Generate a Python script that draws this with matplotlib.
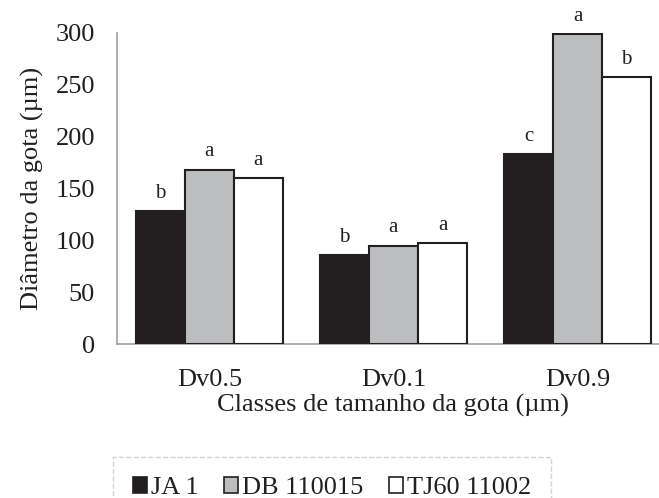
import matplotlib.pyplot as plt
import numpy as np

categories = ["Dv0.5", "Dv0.1", "Dv0.9"]
series_names = ["JA 1", "DB 110015", "TJ60 11002"]
ja1 = [128, 86, 183]
db110015 = [168, 95, 299]
tj60 = [160, 97, 257]
letters_ja1 = ["b", "b", "c"]
letters_db = ["a", "a", "a"]
letters_tj = ["a", "a", "b"]

plt.rcParams["font.family"] = ["Liberation Serif", "DejaVu Serif"]

fig = plt.figure(figsize=(6.59, 4.98), dpi=100)
ax = fig.add_axes([0.178, 0.309, 0.838, 0.625])

x = np.arange(len(categories))
w = 0.8 / 3
colors = ["#231f20", "#bcbdbf", "#ffffff"]
all_vals = [ja1, db110015, tj60]
all_letters = [letters_ja1, letters_db, letters_tj]
for i, (vals, lets) in enumerate(zip(all_vals, all_letters)):
    pos = x + (i - 1) * w
    ax.bar(pos, vals, w, color=colors[i], edgecolor="#231f20", linewidth=1.5,
           label=series_names[i], zorder=3)
    for p, v, t in zip(pos, vals, lets):
        ax.annotate(t, (p, v), xytext=(0, 6), textcoords="offset points",
                    ha="center", va="bottom", fontsize=15, color="#231f20")

ax.set_xlim(-0.5, 2.5)
ax.set_ylim(0, 300)
ax.set_yticks(np.arange(0, 301, 50))
ax.set_xticks(x)
ax.set_xticklabels(categories)
ax.tick_params(axis="both", length=0, labelsize=19, colors="#231f20")
ax.tick_params(axis="y", pad=16)
ax.tick_params(axis="x", pad=18)
for s in ["top", "right"]:
    ax.spines[s].set_visible(False)
for s in ["left", "bottom"]:
    ax.spines[s].set_color("#a0a0a0")
    ax.spines[s].set_linewidth(1.2)

ax.set_ylabel("Diâmetro da gota (µm)", fontsize=19, color="#231f20", labelpad=8)
ax.set_xlabel("Classes de tamanho da gota (µm)", fontsize=19, color="#231f20", labelpad=2)

leg = fig.legend(loc="upper left", bbox_to_anchor=(113 / 659, 1 - 457 / 498),
                 borderaxespad=0, ncol=3, fontsize=19, frameon=True, fancybox=False,
                 handlelength=0.55, handleheight=0.55, handletextpad=0.15,
                 columnspacing=0.95, borderpad=0.75)
frame = leg.get_frame()
frame.set_edgecolor("#c8c8c8")
frame.set_linestyle("--")
frame.set_linewidth(1.0)
for h in leg.legend_handles:
    h.set_linewidth(1.2)
for t in leg.get_texts():
    t.set_color("#231f20")

fig.savefig("out.png", dpi=100)
